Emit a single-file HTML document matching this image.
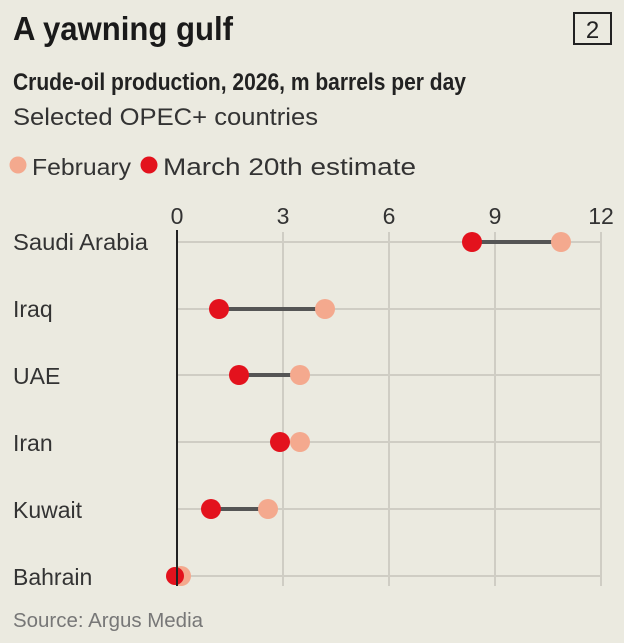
<!DOCTYPE html>
<html><head><meta charset="utf-8"><style>
html,body{margin:0;padding:0;background:#ebeae0;}
svg{display:block;font-family:"Liberation Sans Narrow","Liberation Sans",sans-serif;}
</style></head><body>
<svg width="624" height="643" viewBox="0 0 624 643" xmlns="http://www.w3.org/2000/svg">
<rect width="624" height="643" fill="#ebeae0"/>
<text x="13" y="40" font-size="33" font-weight="bold" fill="#1a1a1a" textLength="220" lengthAdjust="spacingAndGlyphs">A yawning gulf</text>
<rect x="574" y="13" width="37" height="31" fill="none" stroke="#222" stroke-width="2"/>
<text x="592.5" y="38" font-size="24" fill="#222" text-anchor="middle">2</text>
<text x="13" y="90" font-size="24" font-weight="bold" fill="#222" textLength="453" lengthAdjust="spacingAndGlyphs">Crude-oil production, 2026, m barrels per day</text>
<text x="13" y="125" font-size="24" fill="#333" textLength="305" lengthAdjust="spacingAndGlyphs">Selected OPEC+ countries</text>
<circle cx="18" cy="165" r="8.5" fill="#f4a98e"/>
<text x="32" y="175" font-size="23" fill="#333" textLength="99" lengthAdjust="spacingAndGlyphs">February</text>
<circle cx="149" cy="165" r="8.5" fill="#e3121d"/>
<text x="163" y="175" font-size="24" fill="#333" textLength="253" lengthAdjust="spacingAndGlyphs">March 20th estimate</text>
<g stroke="#cfcdc4" stroke-width="2">
<line x1="283" y1="232" x2="283" y2="586"/><line x1="389" y1="232" x2="389" y2="586"/>
<line x1="495" y1="232" x2="495" y2="586"/><line x1="601" y1="232" x2="601" y2="586"/>
<line x1="177" y1="242" x2="601" y2="242"/><line x1="177" y1="309" x2="601" y2="309"/>
<line x1="177" y1="375" x2="601" y2="375"/><line x1="177" y1="442" x2="601" y2="442"/>
<line x1="177" y1="509" x2="601" y2="509"/><line x1="177" y1="576" x2="601" y2="576"/>
</g>
<g font-size="23" fill="#333" text-anchor="middle">
<text x="177" y="224">0</text><text x="283" y="224">3</text><text x="389" y="224">6</text><text x="495" y="224">9</text><text x="601" y="224">12</text>
</g>
<g font-size="23" fill="#333">
<text x="13" y="250" textLength="135" lengthAdjust="spacingAndGlyphs">Saudi Arabia</text>
<text x="13" y="317">Iraq</text>
<text x="13" y="384">UAE</text>
<text x="13" y="451">Iran</text>
<text x="13" y="518">Kuwait</text>
<text x="13" y="585">Bahrain</text>
</g>
<g stroke="#555" stroke-width="4">
<line x1="472" y1="242" x2="561" y2="242"/>
<line x1="219" y1="309" x2="325" y2="309"/>
<line x1="239" y1="375" x2="300" y2="375"/>
<line x1="211" y1="509" x2="268" y2="509"/>
</g>
<g fill="#f4a98e">
<circle cx="561" cy="242" r="10"/><circle cx="325" cy="309" r="10"/><circle cx="300" cy="375" r="10"/>
<circle cx="300" cy="442" r="10"/><circle cx="268" cy="509" r="10"/><circle cx="181" cy="576" r="10"/>
</g>
<g fill="#e3121d">
<circle cx="472" cy="242" r="10"/><circle cx="219" cy="309" r="10"/><circle cx="239" cy="375" r="10"/>
<circle cx="280" cy="442" r="10"/><circle cx="211" cy="509" r="10"/><circle cx="175" cy="576" r="9"/>
</g>
<line x1="177" y1="230" x2="177" y2="586" stroke="#222" stroke-width="2"/>
<text x="13" y="627" font-size="20" fill="#777" textLength="190" lengthAdjust="spacingAndGlyphs">Source: Argus Media</text>
</svg>
</body></html>
